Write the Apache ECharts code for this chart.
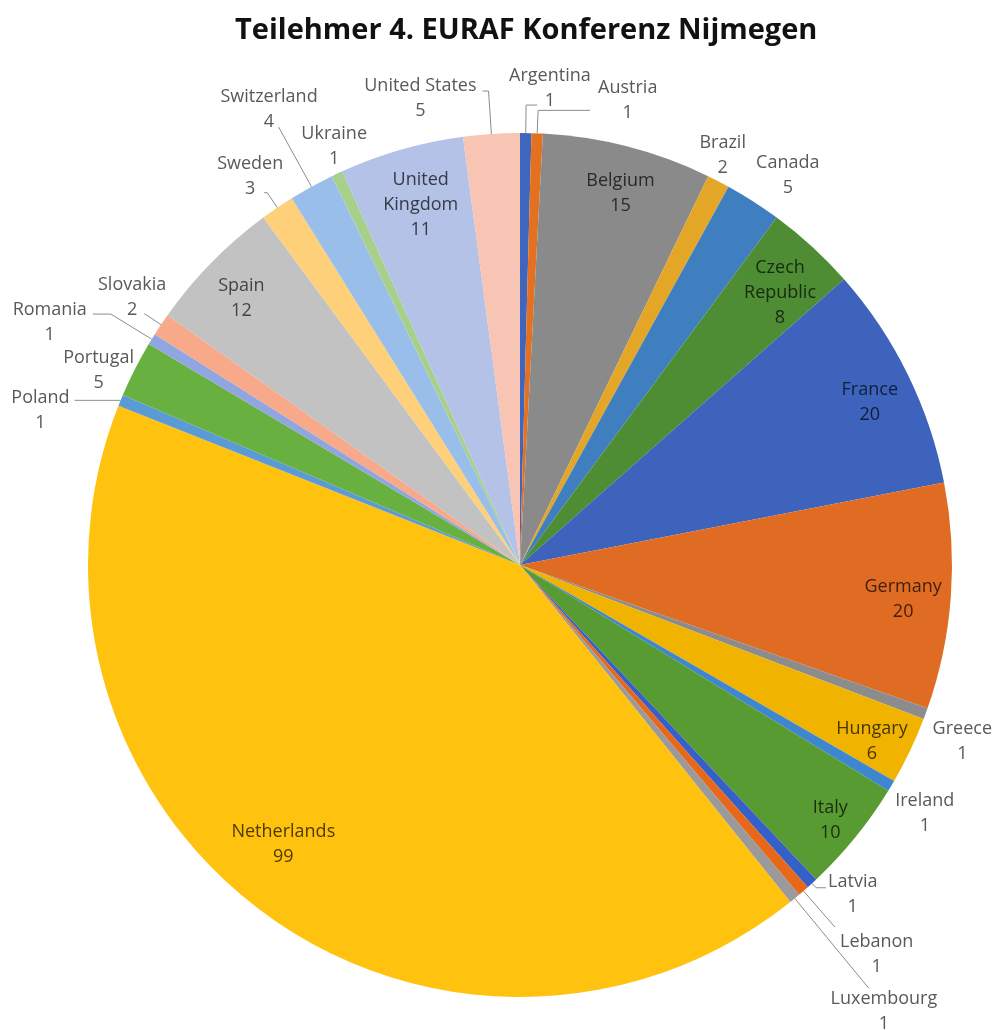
<!DOCTYPE html>
<html><head><meta charset="utf-8">
<script src="https://cdn.jsdelivr.net/npm/echarts@6/dist/echarts.min.js"></script>
<style>html,body{margin:0;padding:0;background:#fff}#c{width:995px;height:1030px}</style>
</head><body><div id="c"></div>
<script>
const chartTitle = 'Teilehmer 4. EURAF Konferenz Nijmegen';
const countries = ['Argentina','Austria','Belgium','Brazil','Canada','Czech Republic','France','Germany','Greece','Hungary','Ireland','Italy','Latvia','Lebanon','Luxembourg','Netherlands','Poland','Portugal','Romania','Slovakia','Spain','Sweden','Switzerland','Ukraine','United Kingdom','United States'];
const participants = [1,1,15,2,5,8,20,20,1,6,1,10,1,1,1,99,1,5,1,2,12,3,4,1,11,5];
const sliceColors = ['#3F66BC','#E4711F','#8A8A8A','#E3A626','#3F7FBF','#4F8D34','#3D63BC','#E06C24','#8C8C8C','#F0B400','#3F86D0','#579B32','#3560C8','#E8681A','#9A9A9A','#FFC20E','#5B9BD5','#68B040','#8FA6E0','#F7A98A','#C2C2C2','#FFD07A','#9ABEEA','#A8D08D','#B4C2E8','#F8C4B4'];
const insideThreshold = 5;

// outside label leader styling: [radial length, horizontal length, show line, label nudge x, label nudge y]
const leaderStyle = {
  'Argentina': [28, 11, true, -33, -17],
  'Austria': [23, 52, true, 3, -10],
  'Brazil': [0, 0, false, -24, -26],
  'Canada': [0, 0, false, -2, -26],
  'Greece': [0, 0, false, 2, 28],
  'Ireland': [0, 0, false, -1, 27],
  'Latvia': [6, 10, true, -3, 7],
  'Lebanon': [48, 0, true, 0, 27],
  'Luxembourg': [116, 0, true, -43, 23],
  'Poland': [0, 46, true, 0, 10],
  'Portugal': [0, 0, false, 4, 1],
  'Romania': [48, 18, true, -1, 8],
  'Slovakia': [19, 1, true, 27, -17],
  'Sweden': [18, 3, true, 24, -16],
  'Switzerland': [68, 0, true, 44, -18],
  'Ukraine': [0, 0, false, 35, -27],
  'United States': [43, 6, true, -1, 7]
};
// inside label nudges: [x, y]
const insideNudge = {
  'Belgium': [5, -1], 'Czech Republic': [1, 10], 'France': [6, 7], 'Germany': [1, 6],
  'Hungary': [6, 12], 'Italy': [13, 14], 'Netherlands': [-9, -29], 'Spain': [-5, 2], 'United Kingdom': [6, 8]
};

function darken(hex, f) {
  const n = parseInt(hex.slice(1), 16);
  const r = Math.round(((n >> 16) & 255) * f), g = Math.round(((n >> 8) & 255) * f), b = Math.round((n & 255) * f);
  return 'rgb(' + r + ',' + g + ',' + b + ')';
}

const cx = 520, cy = 565, R = 432;
const font = '"Open Sans", sans-serif';

const mainData = countries.map((name, i) => {
  const inside = participants[i] > insideThreshold;
  const ls = leaderStyle[name] || [12, 12, true, 0, 0];
  return {
    name, value: participants[i],
    itemStyle: { color: sliceColors[i] },
    label: { show: !inside },
    labelLine: { show: !inside && ls[2], length: ls[0], length2: ls[1] }
  };
});
const overlayData = countries.map((name, i) => {
  const inside = participants[i] > insideThreshold;
  return {
    name, value: participants[i],
    itemStyle: { color: 'rgba(0,0,0,0)' },
    label: { show: inside, color: darken(sliceColors[i], i === 20 ? 0.35 : 0.3) }
  };
});

const chart = echarts.init(document.getElementById('c'), null, { renderer: 'canvas' });
chart.setOption({
  animation: false,
  backgroundColor: '#fff',
  title: {
    text: chartTitle, left: 230, top: 11,
    textStyle: { fontFamily: font, fontWeight: 'bold', fontSize: 29, color: '#111' }
  },
  series: [
    {
      type: 'pie', center: [cx, cy], radius: [0, R], startAngle: 90, clockwise: true,
      avoidLabelOverlap: false, minShowLabelAngle: 0,
      itemStyle: { borderWidth: 0 },
      data: mainData,
      label: {
        position: 'outside', overflow: 'none', distanceToLabelLine: 5,
        formatter: p => '{n|' + p.name + '}\n{n|' + p.value + '}',
        rich: { n: { align: 'center', fontFamily: font, fontSize: 18, lineHeight: 25, color: '#595959' } }
      },
      labelLine: { lineStyle: { color: '#8C8C8C', width: 1 } },
      labelLayout: p => {
        const ls = leaderStyle[countries[p.dataIndex]] || [0, 0, true, 0, 0];
        return { dx: ls[3], dy: ls[4] };
      },
      emphasis: { disabled: true }
    },
    {
      type: 'pie', center: [cx, cy], radius: [R * 0.76, R], startAngle: 90, clockwise: true,
      silent: true, avoidLabelOverlap: false, minShowLabelAngle: 0,
      data: overlayData,
      label: {
        position: 'inside',
        formatter: p => p.name.replace(/ /g, '\n') + '\n' + p.value,
        fontFamily: font, fontSize: 18, lineHeight: 25, align: 'center'
      },
      labelLine: { show: false },
      labelLayout: p => {
        const nd = insideNudge[countries[p.dataIndex]] || [0, 0];
        return { dx: nd[0], dy: nd[1] };
      },
      emphasis: { disabled: true }
    }
  ]
});
</script>
</body></html>
